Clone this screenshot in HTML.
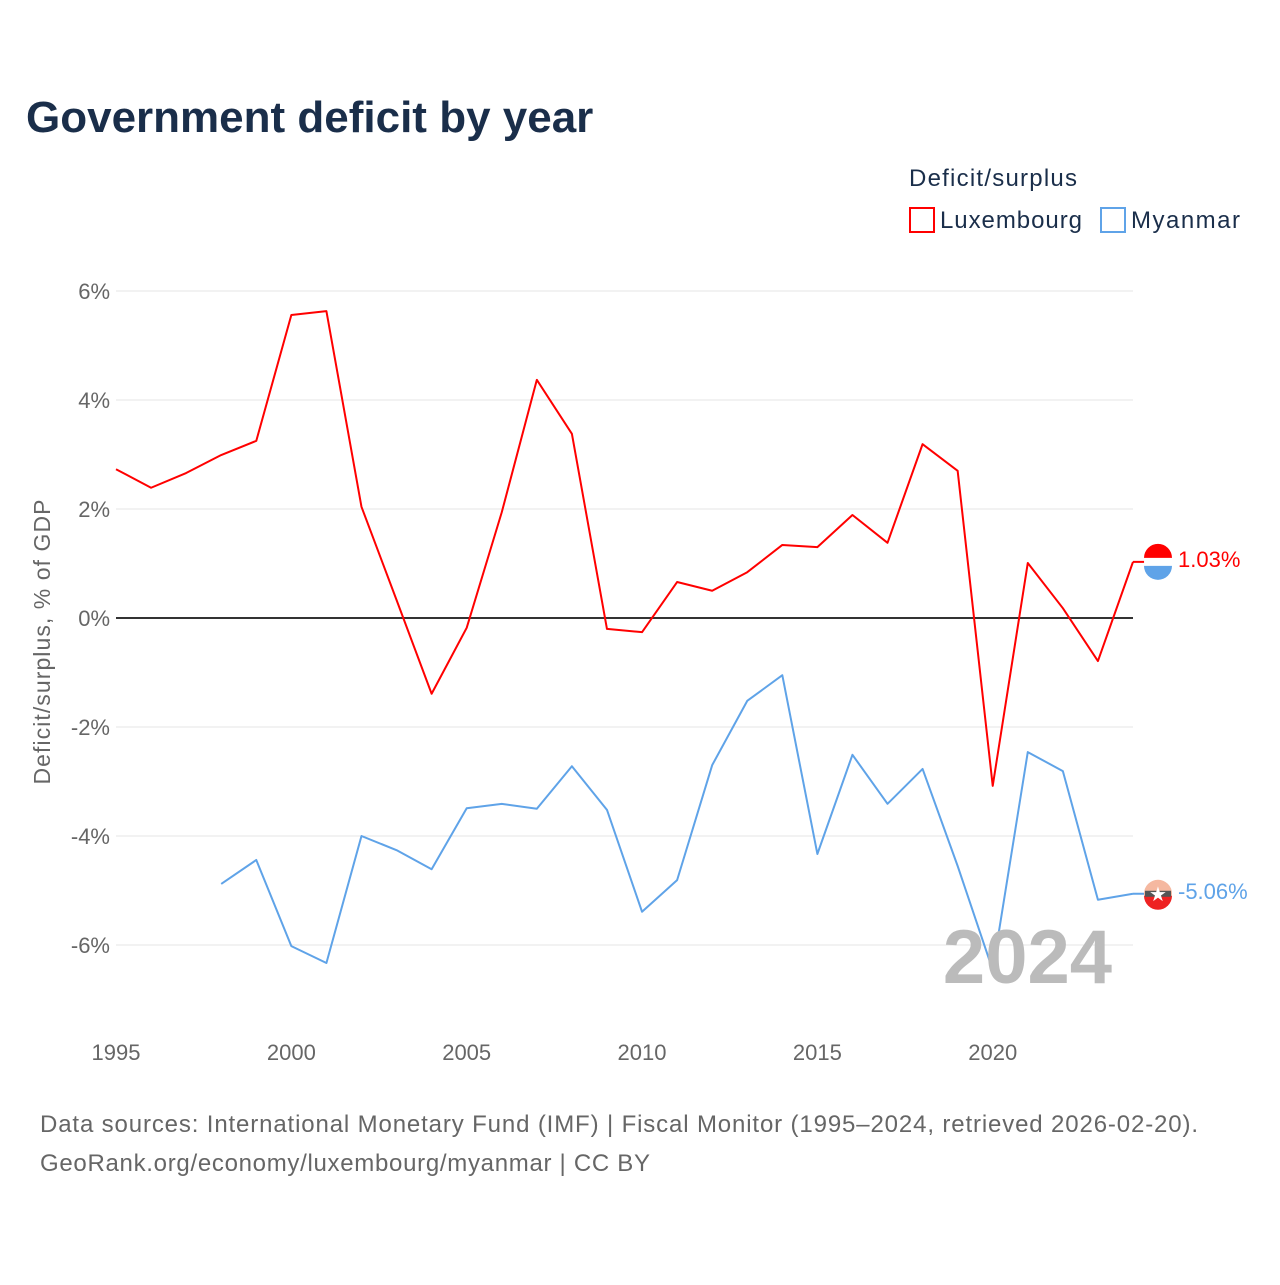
<!DOCTYPE html>
<html><head><meta charset="utf-8">
<style>
body{margin:0;background:#fff;font-family:"Liberation Sans",sans-serif;}
#wrap{position:relative;width:1280px;height:1280px;}
</style></head>
<body>
<div id="wrap">
<svg id="chart" width="1280" height="1280" xmlns="http://www.w3.org/2000/svg">
<text x="26" y="132" font-size="44" font-weight="bold" fill="#1a2e4a">Government deficit by year</text>
<text x="909" y="186" font-size="24" fill="#1a2e4a" textLength="168">Deficit/surplus</text>
<g>
<rect x="910" y="208" width="24" height="24" fill="none" stroke="#ff0000" stroke-width="2"/>
<text x="940" y="228" font-size="24" fill="#1a2e4a" textLength="142">Luxembourg</text></g>
<g>
<rect x="1101" y="208" width="24" height="24" fill="none" stroke="#5fa3e8" stroke-width="2"/>
<text x="1131" y="228" font-size="24" fill="#1a2e4a" textLength="109">Myanmar</text></g>
<text transform="translate(50,642) rotate(-90)" text-anchor="middle" font-size="23" fill="#666" textLength="285">Deficit/surplus, % of GDP</text>
<g id="grid"></g><g id="series"></g>
<text x="1112" y="983" text-anchor="end" font-size="76" font-weight="bold" fill="#bbb">2024</text>
<text x="40" y="1132" font-size="24" fill="#666" textLength="1158">Data sources: International Monetary Fund (IMF) | Fiscal Monitor (1995–2024, retrieved 2026-02-20).</text>
<text x="40" y="1171" font-size="24" fill="#666" textLength="610">GeoRank.org/economy/luxembourg/myanmar | CC BY</text>
</svg></div>
<script>
const years=[1995,1996,1997,1998,1999,2000,2001,2002,2003,2004,2005,2006,2007,2008,2009,2010,2011,2012,2013,2014,2015,2016,2017,2018,2019,2020,2021,2022,2023,2024];
const luxembourg=[2.73,2.39,2.66,2.99,3.25,5.56,5.63,2.04,0.33,-1.39,-0.18,1.94,4.37,3.38,-0.2,-0.26,0.66,0.5,0.84,1.34,1.30,1.89,1.38,3.19,2.70,-3.08,1.01,0.18,-0.79,1.03];
const myanmar=[null,null,null,-4.88,-4.44,-6.02,-6.33,-4.0,-4.26,-4.61,-3.49,-3.41,-3.5,-2.72,-3.52,-5.39,-4.81,-2.70,-1.52,-1.05,-4.33,-2.51,-3.41,-2.77,-4.55,-6.46,-2.46,-2.81,-5.17,-5.06];
const yTicks=[6,4,2,0,-2,-4,-6];
const xTicks=[1995,2000,2005,2010,2015,2020];
const NS="http://www.w3.org/2000/svg";
const X=y=>116+(y-1995)*(1133-116)/29;
const Y=v=>618-v*54.5;
const grid=document.getElementById('grid'),ser=document.getElementById('series');
function mk(t,a,p){const e=document.createElementNS(NS,t);for(const k in a)e.setAttribute(k,a[k]);p.appendChild(e);return e;}
yTicks.forEach(v=>{
const l=mk('line',{x1:116,x2:1133,y1:Y(v),y2:Y(v),stroke:v==0?'#333':'#e6e6e6','stroke-width':v==0?2:1},grid);


const t=mk('text',{x:110,y:Y(v)+8,'text-anchor':'end','font-size':22,fill:'#666'},grid);
t.textContent=v+'%';


});
xTicks.forEach(v=>{
const t=mk('text',{x:X(v),y:1060,'text-anchor':'middle','font-size':22,fill:'#666'},grid);
t.textContent=v;


});
function line(vals,col,name){
let d='';vals.forEach((v,i)=>{if(v==null)return;d+=(d?'L':'M')+X(years[i])+','+Y(v);});
const p=mk('path',{d:d,fill:'none',stroke:col,'stroke-width':2,'stroke-linejoin':'round'},ser);


}
line(luxembourg,'#ff0000','luxembourg-line');
line(myanmar,'#5fa3e8','myanmar-line');
function endLabel(v,col,name,flag){
const y=Y(v);
mk('line',{x1:1133,x2:1150,y1:y,y2:y,stroke:col,'stroke-width':2},ser);
const g=mk('g',{},ser);


if(flag=='lu'){mk('circle',{cx:1158,cy:y,r:14,fill:'#fff'},g);
mk('path',{d:`M1144,${y-4}A14,14 0 0 1 1172,${y-4}Z`,fill:'#ff0000'},g);
mk('path',{d:`M1144,${y+4}A14,14 0 0 0 1172,${y+4}Z`,fill:'#5fa3e8'},g);}
else{mk('circle',{cx:1158,cy:y,r:14,fill:'#f5b8a0'},g);
mk('path',{d:`M1144,${y+2}A14,14 0 0 0 1172,${y+2}Z`,fill:'#e22'},g);
mk('rect',{x:1145,y:y-3,width:26,height:6,fill:'#555'},g);
const s=mk('text',{x:1158,y:y+7,'text-anchor':'middle','font-size':20,fill:'#fff'},g);s.textContent='★';}
const t=mk('text',{x:1178,y:y+5,'font-size':22,fill:col},ser);
t.textContent=v.toFixed(2)+'%';


}
endLabel(luxembourg[luxembourg.length-1],'#ff0000','luxembourg','lu');
endLabel(myanmar[myanmar.length-1],'#5fa3e8','myanmar','mm');
</script>
</body></html>
